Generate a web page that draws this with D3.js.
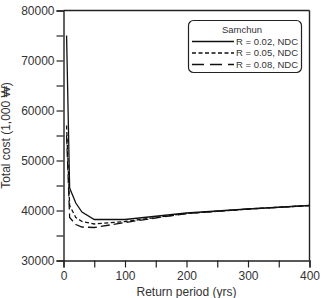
<!DOCTYPE html>
<html><head><meta charset="utf-8">
<script src="https://cdn.jsdelivr.net/npm/d3@7"></script>
<style>body{margin:0;background:#fff}svg{display:block}text{font-family:"Liberation Sans",Arial,sans-serif;fill:#333}</style>
</head><body><svg id="c" width="323" height="298"></svg>
<script>
const returnPeriods = [5, 10, 20, 30, 50, 100, 200, 300, 400];
const costR002 = [75000, 44500, 41500, 39700, 38200, 38200, 39500, 40300, 41000];
const costR005 = [57000, 41000, 38600, 37800, 37300, 37800, 39400, 40300, 41000];
const costR008 = [55000, 38600, 37200, 36700, 36600, 37600, 39400, 40300, 41000];
const seriesNames = ["R = 0.02, NDC", "R = 0.05, NDC", "R = 0.08, NDC"];
const legendTitle = "Samchun";
const yTicks = [30000, 40000, 50000, 60000, 70000, 80000];
const xTicks = [0, 100, 200, 300, 400];

const svg = d3.select("#c");
const m = {l: 63.5, r: 309.5, t: 10.5, b: 260.5};
const x = d3.scaleLinear().domain([0, 400]).range([m.l, m.r]);
const y = d3.scaleLinear().domain([30000, 80000]).range([m.b, m.t]);
const axisCol = "#222";

svg.append("line").attr("x1", m.l).attr("x2", m.r).attr("y1", m.t).attr("y2", m.t).attr("stroke", axisCol).attr("stroke-width", 1.4);
svg.append("line").attr("x1", m.r).attr("x2", m.r).attr("y1", m.t).attr("y2", m.b).attr("stroke", axisCol).attr("stroke-width", 1.4);

const yAxis = svg.append("g").attr("transform", `translate(${m.l},0)`)
  .call(d3.axisLeft(y).tickValues(d3.range(30000, 80001, 5000)).tickSize(7).tickFormat(d => yTicks.includes(d) ? d : ""));
const xAxis = svg.append("g").attr("transform", `translate(0,${m.b})`)
  .call(d3.axisBottom(x).tickValues(d3.range(0, 401, 50)).tickSize(7).tickFormat(d => xTicks.includes(d) ? d : ""));
[yAxis, xAxis].forEach(g => {
  g.select(".domain").attr("stroke", axisCol).attr("stroke-width", 1.4);
  g.selectAll(".tick line").attr("stroke", axisCol).attr("stroke-width", 1.2);
  g.selectAll("text").attr("font-size", 12).attr("fill", "#333").attr("font-family", "Liberation Sans, Arial, sans-serif");
});
yAxis.selectAll("text").attr("x", -9);
xAxis.selectAll("text").attr("y", 11);

svg.append("text").attr("transform", `translate(10,${(m.t + m.b) / 2}) rotate(-90)`)
  .attr("text-anchor", "middle").attr("font-size", 12).text("Total cost (1,000 \u20A9)");
svg.append("text").attr("x", (m.l + m.r) / 2).attr("y", 296).attr("text-anchor", "middle").attr("font-size", 12).text("Return period (yrs)");

const series = [costR002, costR005, costR008];
const dashes = [null, "4,2.5", "9,4"];
const line = d3.line().x((d, i) => x(returnPeriods[i])).y(d => y(d));
series.forEach((s, k) => {
  svg.append("path").attr("d", line(s)).attr("fill", "none").attr("stroke", "#111")
    .attr("stroke-width", 1.3).attr("stroke-dasharray", dashes[k]);
});

const lg = svg.append("g");
lg.append("rect").attr("x", 188.5).attr("y", 20.5).attr("width", 113).attr("height", 52).attr("rx", 5)
  .attr("fill", "#fff").attr("stroke", "#222").attr("stroke-width", 1.2);
lg.append("text").attr("x", 242).attr("y", 32.5).attr("text-anchor", "middle").attr("font-size", 9.5).text(legendTitle);
const legDash = [null, "4,2.5", "12,6"];
seriesNames.forEach((n, k) => {
  const yy = 41.5 + k * 11.5;
  lg.append("line").attr("x1", 192).attr("x2", 234).attr("y1", yy).attr("y2", yy)
    .attr("stroke", "#111").attr("stroke-width", 1.3).attr("stroke-dasharray", legDash[k]);
  lg.append("text").attr("x", 236).attr("y", yy + 3.3).attr("font-size", 9.5).text(n);
});
</script></body></html>
